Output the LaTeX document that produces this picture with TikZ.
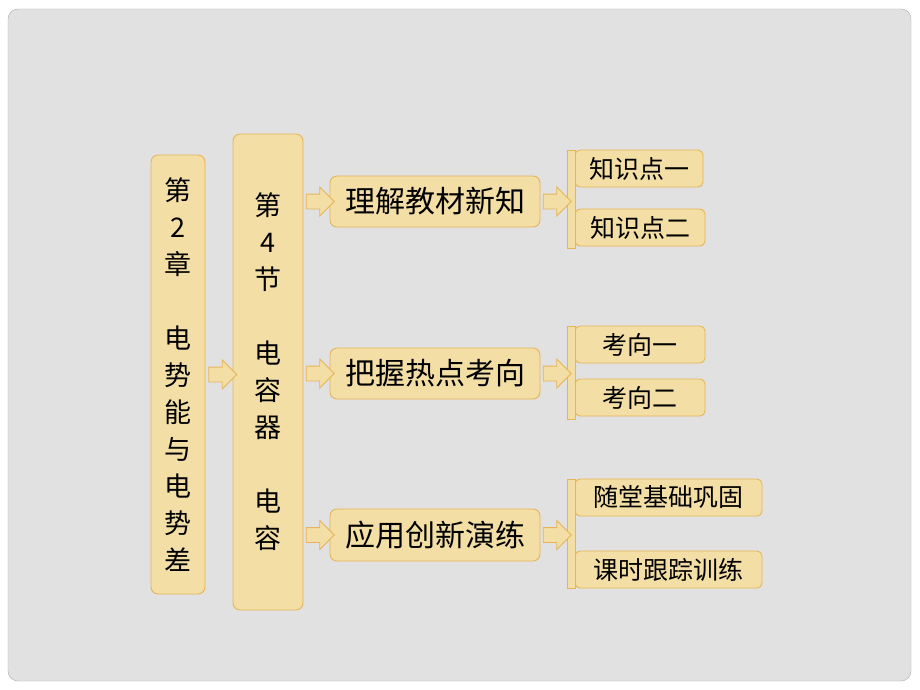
\documentclass[tikz,border=0pt]{standalone}
\usepackage{fontspec}
\setmainfont{Noto Sans CJK SC}
\usepackage{tikz}
\usetikzlibrary{shapes.arrows}
\usetikzlibrary{calc}

\definecolor{paper}{RGB}{243,222,165}
\definecolor{paperline}{RGB}{231,180,88}
\definecolor{slide}{RGB}{225,225,225}
\definecolor{slideline}{RGB}{170,170,170}

\begin{document}
\begin{tikzpicture}[x=1pt,y=-1pt,
  box/.style={draw=paperline,fill=paper,line width=0.9pt,rounded corners=7pt,inner sep=0pt},
  colbox/.style={box,align=center,font=\fontsize{27}{37}\selectfont},
  midbox/.style={box,minimum width=210pt,minimum height=51pt,font=\fontsize{30}{34}\selectfont},
  leafbox/.style={box,rounded corners=5pt,minimum height=37pt,font=\fontsize{25}{29}\selectfont},
  bar/.style={draw=paperline,fill=paper,line width=0.9pt,minimum width=8pt,inner sep=0pt},
  fatarrow/.style={single arrow,draw=paperline,fill=paper,line width=0.9pt,inner xsep=0pt,
    inner ysep=7pt,minimum height=28pt,single arrow head extend=7pt}]
\useasboundingbox (0,0) rectangle (920,690);
\fill[white] (0,0) rectangle (920,690);
\draw[fill=slide,draw=slideline,rounded corners=10pt] (8,9) rectangle (911,681);

% left columns
\node[colbox,minimum width=54pt,minimum height=439pt] (chap) at (178,374.5)
  {第\\2\\章\\[37pt]电\\势\\能\\与\\电\\势\\差};
\node[colbox,minimum width=70pt,minimum height=476pt] (sec) at (268,372)
  {第\\4\\节\\[37pt]电\\容\\器\\[37pt]电\\容};

% middle
\node[midbox] (know) at (435,201.5) {理解教材新知};
\node[midbox] (hot) at (435,373.5) {把握热点考向};
\node[midbox,minimum height=52pt] (use) at (435,535) {应用创新演练};

% right ones
\node[leafbox,minimum width=128pt] (kp1) at (639,168.5) {知识点一};
\node[leafbox,minimum width=130pt] (kp2) at (640,227.5) {知识点二};
\node[leafbox,minimum width=130pt] (dir1) at (640,344.5) {考向一};
\node[leafbox,minimum width=130pt] (dir2) at (640,397.5) {考向二};
\node[leafbox,minimum width=187pt] (cls) at (668.5,497.5) {随堂基础巩固};
\node[leafbox,minimum width=187pt] (hw) at (668.5,569.5) {课时跟踪训练};

\node[bar,minimum height=98pt] (bar1) at (571,199) {};
\node[bar,minimum height=93pt] (bar2) at (571,372.5) {};
\node[bar,minimum height=109pt] (bar3) at (571,533.5) {};

% arrows
\node[fatarrow] (a0) at ($(chap.east)!0.5!(chap.east -| sec.west)$) {};
\foreach \m/\b in {know/bar1,hot/bar2,use/bar3}{
  \node[fatarrow] (in-\m) at ($(sec.east |- \m.west)!0.5!(\m.west)$) {};
  \node[fatarrow] (out-\m) at ($(\m.east)!0.5!(\m.east -| \b.west)$) {};
}

\end{tikzpicture}
\end{document}
